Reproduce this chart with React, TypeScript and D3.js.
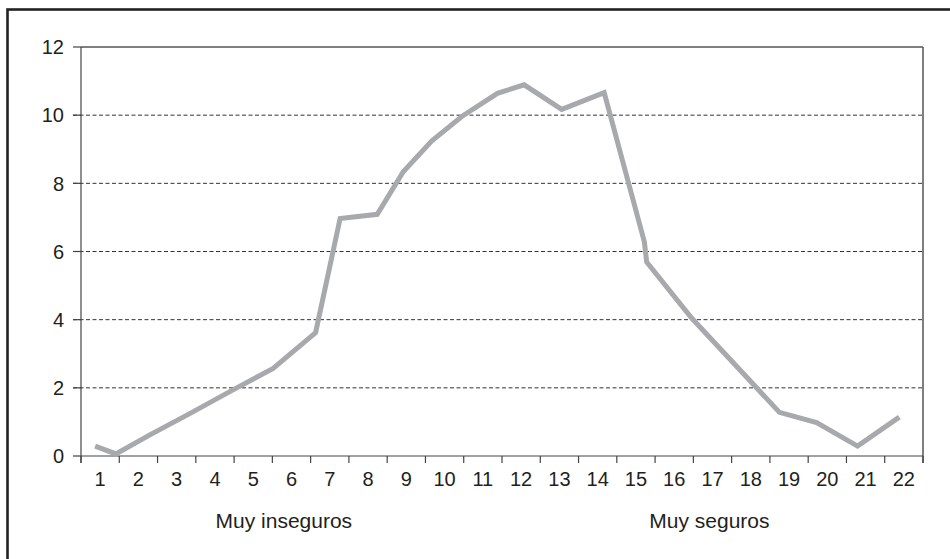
import React from "react";
import * as d3 from "d3";

const categories: string[] = ["1","2","3","4","5","6","7","8","9","10","11","12","13","14","15","16","17","18","19","20","21","22"];
const yTicks: number[] = [0, 2, 4, 6, 8, 10, 12];
const lineX: number[] = [0.87, 1.41, 2.3, 3.4, 4.47, 5.52, 6.63, 7.27, 8.24, 8.92, 9.66, 10.45, 11.38, 12.08, 13.06, 14.17, 15.22, 15.28, 16.46, 18.75, 19.72, 20.79, 21.88];
const lineY: number[] = [0.29, 0.06, 0.62, 1.28, 1.94, 2.57, 3.62, 6.97, 7.09, 8.34, 9.24, 9.96, 10.64, 10.89, 10.17, 10.66, 6.28, 5.69, 4.04, 1.28, 0.98, 0.29, 1.14];
const annotations: { text: string; at: number }[] = [
  { text: "Muy inseguros", at: 5.8 },
  { text: "Muy seguros", at: 16.92 },
];

const W = 950;
const H = 559;
const left = 81;
const right = 923;
const top = 47;
const bottom = 456;
const font = "'Liberation Sans', Arial, Helvetica, sans-serif";

export default function App() {
  const x = d3.scaleLinear().domain([0.5, categories.length + 0.5]).range([left, right]);
  const y = d3.scaleLinear().domain([0, 12]).range([bottom, top]);
  const pts: [number, number][] = lineX.map((v, i) => [v, lineY[i]]);
  const line = d3
    .line<[number, number]>()
    .x((d) => x(d[0]))
    .y((d) => y(d[1]));
  const boundaries = d3.range(0, categories.length + 1).map((i) => i + 0.5);

  return (
    <svg
      width={W}
      height={H}
      style={{ position: "absolute", left: 0, top: 0, background: "#fff" }}
      fontFamily={font}
    >
      <rect x={0} y={0} width={W} height={H} fill="#fff" />
      {/* outer frame */}
      <rect x={7.5} y={9.5} width={1200} height={1200} fill="none" stroke="#222" strokeWidth={2.6} />

      {/* gridlines */}
      {yTicks.filter((t) => t > 0 && t < 12).map((t) => (
        <line key={"g" + t} x1={left - 8} x2={right} y1={y(t)} y2={y(t)} stroke="#333" strokeWidth={1} strokeDasharray="4 2.5" />
      ))}
      {/* y ticks */}
      {yTicks.map((t) => (
        <line key={"yt" + t} x1={left - 8} x2={left} y1={y(t)} y2={y(t)} stroke="#444" strokeWidth={1.2} />
      ))}
      {/* plot frame top & right */}
      <line x1={left} x2={right} y1={y(12)} y2={y(12)} stroke="#555" strokeWidth={1.5} />
      <line x1={right} x2={right} y1={y(12)} y2={bottom + 7} stroke="#555" strokeWidth={1.5} />
      {/* axes */}
      <line x1={left} x2={left} y1={y(12)} y2={bottom + 7} stroke="#444" strokeWidth={1.2} />
      <line x1={left} x2={right} y1={bottom} y2={bottom} stroke="#444" strokeWidth={1.2} />
      {boundaries.map((b) => (
        <line key={"xt" + b} x1={x(b)} x2={x(b)} y1={bottom} y2={bottom + 7} stroke="#444" strokeWidth={1.2} />
      ))}

      {/* y labels */}
      {yTicks.map((t) => (
        <text key={"yl" + t} x={64} y={y(t)} dy="0.36em" textAnchor="end" fontSize={20} fill="#231f20">
          {t}
        </text>
      ))}
      {/* x labels */}
      {categories.map((c, i) => (
        <text key={"xl" + c} x={x(i + 1)} y={486} textAnchor="middle" fontSize={20} fill="#231f20">
          {c}
        </text>
      ))}

      {/* line */}
      <path d={line(pts) || ""} fill="none" stroke="#a7a9ac" strokeWidth={5} strokeLinejoin="miter" />

      {/* annotations */}
      {annotations.map((a) => (
        <text key={a.text} x={x(a.at)} y={528} textAnchor="middle" fontSize={21} fill="#231f20">
          {a.text}
        </text>
      ))}
    </svg>
  );
}
